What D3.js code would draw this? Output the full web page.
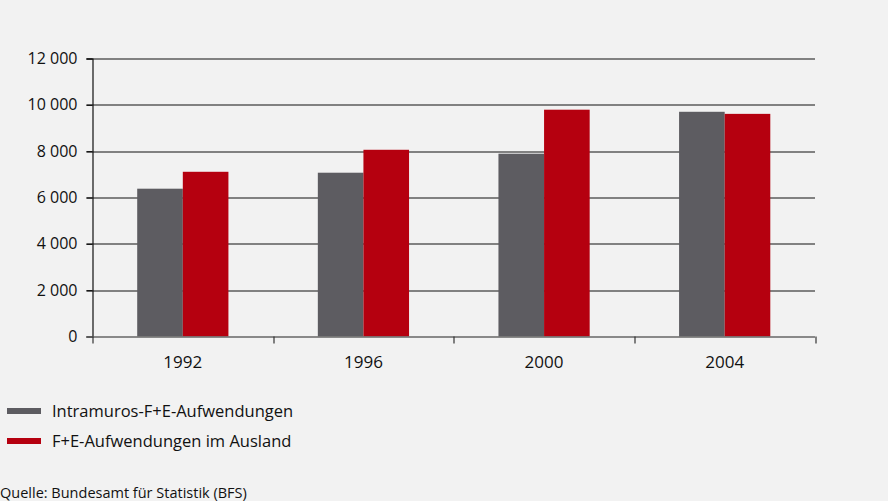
<!DOCTYPE html>
<html>
<head>
    <meta charset="utf-8">
    <script src="https://cdnjs.cloudflare.com/ajax/libs/d3/7.8.5/d3.min.js"></script>
    <style>
        body {
            margin: 0;
            padding: 0;
            background: #f2f2f2;
            font-family: "Open Sans", "Noto Sans", sans-serif;
        }
        svg text {
            fill: #111;
        }
    </style>
</head>
<body>
    <svg id="chart" width="888" height="501"></svg>

    <script>
        // Data
        const years = ['1992', '1996', '2000', '2004'];
        const seriesNames = ['Intramuros-F+E-Aufwendungen', 'F+E-Aufwendungen im Ausland'];
        const intramuros = [6380, 7070, 7890, 9700];
        const ausland = [7110, 8060, 9790, 9610];
        const yTicks = [0, 2000, 4000, 6000, 8000, 10000, 12000];
        const colors = ['#5d5c61', '#b5000f'];
        const source = 'Quelle: Bundesamt für Statistik (BFS)';

        const svg = d3.select('#chart');
        const margin = {top: 58.5, left: 92.5, right: 888 - 815, bottom: 501 - 336.5};
        const width = 888 - margin.left - margin.right;
        const height = 501 - margin.top - margin.bottom;

        svg.append('rect')
            .attr('width', 888).attr('height', 501)
            .attr('fill', '#f2f2f2');

        const g = svg.append('g')
            .attr('transform', `translate(${margin.left},${margin.top})`);

        const x = d3.scaleBand().domain(years).range([0, width]);
        const xInner = d3.scaleBand().domain([0, 1])
            .range([0, x.bandwidth() * 0.505])
            .paddingInner(0);
        const y = d3.scaleLinear().domain([0, 12000]).range([height, 0]);

        const fmt = d3.formatLocale({decimal: ',', thousands: ' ', grouping: [3], currency: ['', '']}).format(',d');

        // Grid lines
        g.append('g')
            .selectAll('line')
            .data(yTicks.filter(d => d > 0))
            .join('line')
            .attr('x1', -6)
            .attr('x2', width)
            .attr('y1', d => Math.round(y(d)) + 0.5)
            .attr('y2', d => Math.round(y(d)) + 0.5)
            .attr('stroke', '#111')
            .attr('stroke-width', 1.2);

        // Bars
        const series = [intramuros, ausland];
        const groups = g.append('g')
            .selectAll('g')
            .data(years)
            .join('g')
            .attr('transform', d => `translate(${x(d) + x.bandwidth() * (1 - 0.505) / 2},0)`);

        groups.selectAll('rect')
            .data((d, i) => series.map((s, k) => ({k, v: s[i]})))
            .join('rect')
            .attr('x', d => xInner(d.k))
            .attr('width', xInner.bandwidth())
            .attr('y', d => y(d.v))
            .attr('height', d => height - y(d.v))
            .attr('fill', d => colors[d.k]);

        // Y axis
        const yAxis = g.append('g')
            .call(d3.axisLeft(y).tickValues(yTicks).tickSize(6).tickPadding(9).tickFormat(fmt));
        yAxis.select('.domain').attr('stroke', '#111').attr('stroke-width', 1.2);
        yAxis.selectAll('.tick line').attr('stroke', '#111').attr('stroke-width', 1.2);
        yAxis.selectAll('text')
            .attr('font-size', 16)
            .attr('font-family', '"Open Sans", sans-serif')
            .attr('fill', '#111');

        // X axis (baseline with ticks on band edges)
        const xAxis = g.append('g').attr('transform', `translate(0,${height})`);
        xAxis.append('line')
            .attr('x1', -6).attr('x2', width)
            .attr('y1', 0.5).attr('y2', 0.5)
            .attr('stroke', '#666').attr('stroke-width', 1.6);
        const edges = years.map(d => x(d)).concat([width]);
        xAxis.selectAll('.edge')
            .data(edges)
            .join('line')
            .attr('class', 'edge')
            .attr('x1', d => Math.round(d) + 0.5)
            .attr('x2', d => Math.round(d) + 0.5)
            .attr('y1', 0)
            .attr('y2', 7)
            .attr('stroke', '#333')
            .attr('stroke-width', 1.2);
        xAxis.selectAll('.lbl')
            .data(years)
            .join('text')
            .attr('class', 'lbl')
            .attr('x', d => x(d) + x.bandwidth() / 2)
            .attr('y', 26)
            .attr('dy', '0.35em')
            .attr('text-anchor', 'middle')
            .attr('font-size', 17)
            .text(d => d);

        // Legend
        const legend = svg.append('g')
            .selectAll('g')
            .data(seriesNames)
            .join('g')
            .attr('transform', (d, i) => `translate(7,${411 + i * 30})`);
        legend.append('rect')
            .attr('x', 0).attr('y', -3)
            .attr('width', 34).attr('height', 6)
            .attr('fill', (d, i) => colors[i]);
        legend.append('text')
            .attr('x', 45)
            .attr('dy', '0.35em')
            .attr('font-size', 16.5)
            .text(d => d);

        // Source
        svg.append('text')
            .attr('x', 0)
            .attr('y', 493)
            .attr('dy', '0.35em')
            .attr('font-size', 14.5)
            .text(source);
    </script>
</body>
</html>
